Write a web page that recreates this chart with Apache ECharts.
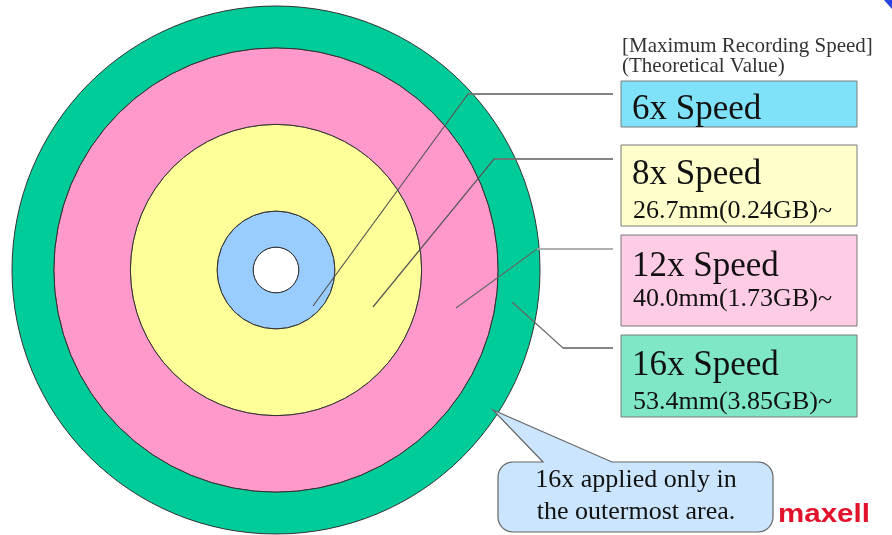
<!DOCTYPE html>
<html>
<head>
<meta charset="utf-8">
<script src="https://cdn.jsdelivr.net/npm/echarts@6/dist/echarts.min.js"></script>
<style>
html,body{margin:0;padding:0;background:#fff;}
#main{width:892px;height:535px;}
</style>
</head>
<body>
<div id="main"></div>
<script>
// ---- data ----
const zoneNames = ['6x Speed', '8x Speed', '12x Speed', '16x Speed'];
const zoneStart = ['', '26.7mm(0.24GB)~', '40.0mm(1.73GB)~', '53.4mm(3.85GB)~'];
const ringNames = ['Hole', '6x', '8x', '12x', '16x'];
const ringOuter = [5.2, 13.4, 33.1, 50.5, 60]; // drawn (schematic) outer radius of each ring, disc units
const headerLines = ['[Maximum Recording Speed]', '(Theoretical Value)'];
const noteLines = ['16x applied only in', 'the outermost area.'];
const brandName = 'maxell';

// ---- styles ----
const ringColors = ['#ffffff', '#99ccff', '#ffff99', '#ff99cc', '#00cc99'];
const boxColors = ['#80e2f8', '#ffffcc', '#ffcce5', '#80e6c8'];
const boxes = [
  {y: 81, h: 46, t: 110, s: 0},
  {y: 145, h: 81, t: 175, s: 211.5},
  {y: 235, h: 91, t: 267, s: 299.5},
  {y: 335, h: 82, t: 366, s: 402.5}
];
const leaders = [
  {pts: [[313, 306], [468, 94], [613, 94]], c: '#555'},
  {pts: [[373, 307], [494, 159], [613, 159]], c: '#555'},
  {pts: [[456, 308], [537, 249], [613, 249]], c: '#666'},
  {pts: [[512, 302], [563, 348], [613, 348]], c: '#666'}
];
const serif = '"Liberation Serif", "Times New Roman", serif';

const series = ringOuter.map((r, i) => ({
  type: 'bar',
  coordinateSystem: 'polar',
  stack: 'disc',
  name: ringNames[i],
  barWidth: '100%',
  barCategoryGap: '0%',
  silent: true,
  data: [r - (i ? ringOuter[i - 1] : 0)],
  itemStyle: {color: ringColors[i], borderColor: '#333', borderWidth: 1}
}));

// rounded-corner callout outline as polygon points
function bubblePoints(x0, y0, x1, y1, rad, tip, baseL, baseR) {
  const pts = [];
  const arc = (cx, cy, a0, a1) => {
    for (let k = 0; k <= 8; k++) {
      const a = a0 + (a1 - a0) * k / 8;
      pts.push([cx + rad * Math.cos(a), cy + rad * Math.sin(a)]);
    }
  };
  arc(x0 + rad, y0 + rad, Math.PI, 1.5 * Math.PI);
  pts.push([baseL, y0], tip, [baseR, y0]);
  arc(x1 - rad, y0 + rad, 1.5 * Math.PI, 2 * Math.PI);
  arc(x1 - rad, y1 - rad, 0, 0.5 * Math.PI);
  arc(x0 + rad, y1 - rad, 0.5 * Math.PI, Math.PI);
  return pts;
}

const graphic = [];
leaders.forEach(l => {
  graphic.push({type: 'polyline', z: 100, shape: {points: l.pts},
    style: {stroke: l.c, lineWidth: 1.2, fill: null}});
});
leaders.forEach((l, i) => {
  graphic.push({type: 'line', z: 101,
    shape: {x1: l.pts[1][0], y1: l.pts[1][1], x2: l.pts[2][0], y2: l.pts[2][1]},
    style: {stroke: i === 2 ? '#b0b0b0' : '#777', lineWidth: 1.6}});
});
zoneNames.forEach((n, i) => {
  const b = boxes[i];
  graphic.push({type: 'rect', z: 100, shape: {x: 621, y: b.y, width: 236, height: b.h},
    style: {fill: boxColors[i], stroke: '#7a7a7a', lineWidth: 1}});
  graphic.push({type: 'text', z: 102, style: {x: 632, y: b.t, text: n,
    font: '35px ' + serif, fill: '#111', verticalAlign: 'middle', align: 'left'}});
  if (zoneStart[i]) {
    graphic.push({type: 'text', z: 102, style: {x: 633, y: b.s, text: zoneStart[i],
      font: '26px ' + serif, fill: '#111', verticalAlign: 'middle', align: 'left'}});
  }
});
headerLines.forEach((t, i) => {
  graphic.push({type: 'text', z: 102, style: {x: 622, y: 46.5 + i * 20, text: t,
    font: '21px ' + serif, fill: '#333', verticalAlign: 'middle', align: 'left'}});
});
graphic.push({type: 'polygon', z: 100,
  shape: {points: bubblePoints(498, 462, 773, 532, 15, [493, 410], 543, 612)},
  style: {fill: '#cce5ff', stroke: '#666', lineWidth: 1.2}});
noteLines.forEach((t, i) => {
  graphic.push({type: 'text', z: 102, style: {x: 636, y: 480.5 + i * 32, text: t,
    font: '26px ' + serif, fill: '#111', verticalAlign: 'middle', align: 'center'}});
});
graphic.push({type: 'text', z: 102, x: 778, y: 515, scaleX: 1.18,
  style: {x: 0, y: 0, text: brandName, font: 'bold 25px "Liberation Sans", Arial, sans-serif',
    fill: '#e3122c', verticalAlign: 'middle', align: 'left'}});
graphic.push({type: 'polygon', z: 100, shape: {points: [[884, 0], [892, 0], [892, 9]]},
  style: {fill: '#2a44e0'}});

const chart = echarts.init(document.getElementById('main'), null, {renderer: 'canvas'});
chart.setOption({
  backgroundColor: '#ffffff',
  animation: false,
  polar: {center: [276, 270], radius: 264},
  angleAxis: {type: 'category', data: ['disc'], show: false, startAngle: 90},
  radiusAxis: {type: 'value', min: 0, max: 60, show: false},
  series: series,
  graphic: graphic
});
</script>
</body>
</html>
